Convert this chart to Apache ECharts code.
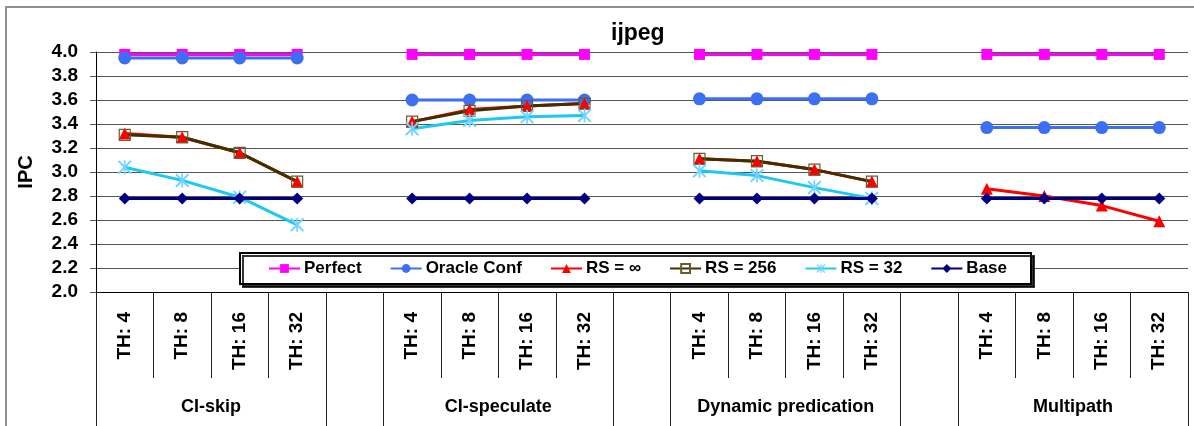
<!DOCTYPE html>
<html>
<head>
  <meta charset="utf-8"/>
  <script src="https://cdn.jsdelivr.net/npm/echarts@6/dist/echarts.min.js"></script>
  <style>
    html, body { margin: 0; padding: 0; background: #fff; }
    #chartmain { width: 1194px; height: 426px; }
  </style>
</head>
<body>
  <div id="chartmain"></div>
  <script type="text/javascript">
    // categories: 4 groups of 4 thresholds, with an empty slot between groups
    var thLabels = ['TH: 4', 'TH: 8', 'TH: 16', 'TH: 32', '',
                    'TH: 4', 'TH: 8', 'TH: 16', 'TH: 32', '',
                    'TH: 4', 'TH: 8', 'TH: 16', 'TH: 32', '',
                    'TH: 4', 'TH: 8', 'TH: 16', 'TH: 32'];
    var groupNames = ['CI-skip', 'CI-speculate', 'Dynamic predication', 'Multipath'];
    var groupCenters = [2, 7, 12, 17];
    var groupEdges = [0, 4, 5, 9, 10, 14, 15, 19];
    var slotEdges = [0, 1, 2, 3, 4, 5, 6, 7, 8, 9, 10, 11, 12, 13, 14, 15, 16, 17, 18, 19];

    var perfect = [3.98, 3.98, 3.98, 3.98, '-', 3.98, 3.98, 3.98, 3.98, '-', 3.98, 3.98, 3.98, 3.98, '-', 3.98, 3.98, 3.98, 3.98];
    var oracleConf = [3.95, 3.95, 3.95, 3.95, '-', 3.60, 3.60, 3.60, 3.60, '-', 3.61, 3.61, 3.61, 3.61, '-', 3.37, 3.37, 3.37, 3.37];
    var rsInf = [3.32, 3.29, 3.16, 2.92, '-', 3.42, 3.52, 3.55, 3.57, '-', 3.11, 3.09, 3.02, 2.92, '-', 2.86, 2.80, 2.72, 2.59];
    var rs256 = [3.31, 3.29, 3.16, 2.92, '-', 3.42, 3.51, 3.55, 3.57, '-', 3.11, 3.09, 3.02, 2.92, '-', '-', '-', '-', '-'];
    var rs32 = [3.04, 2.93, 2.79, 2.56, '-', 3.36, 3.43, 3.46, 3.47, '-', 3.01, 2.97, 2.87, 2.78, '-', '-', '-', '-', '-'];
    var base = [2.78, 2.78, 2.78, 2.78, '-', 2.78, 2.78, 2.78, 2.78, '-', 2.78, 2.78, 2.78, 2.78, '-', 2.78, 2.78, 2.78, 2.78];

    var FONT = '"Liberation Sans", Arial, sans-serif';
    // asterisk marker (vertical bar + X)
    var asterisk = 'path://M4.4 0L5.6 0L5.6 10L4.4 10Z M0 1L1 0L10 9L9 10Z M9 0L10 1L1 10L0 9Z';

    function mkLine(name, data, color, symbol, size, itemStyle) {
      return {
        name: name,
        type: 'line',
        data: data,
        connectNulls: false,
        symbol: symbol,
        symbolSize: size,
        lineStyle: { color: color, width: 3 },
        itemStyle: itemStyle || { color: color },
        emphasis: { disabled: true }
      };
    }

    var option = {
      animation: false,
      backgroundColor: '#fff',
      title: {
        text: 'ijpeg',
        left: 606,
        top: 17,
        textStyle: { fontFamily: FONT, fontSize: 23, fontWeight: 'bold', color: '#000' }
      },
      graphic: [{
        type: 'rect',
        shape: { x: 6, y: 7, width: 1300, height: 600 },
        style: { fill: 'none', stroke: '#909090', lineWidth: 2 },
        silent: true
      }],
      legend: {
        left: 240,
        top: 253,
        padding: [7, 24, 7, 28],
        itemGap: 28,
        itemWidth: 31,
        itemHeight: 11,
        backgroundColor: '#fff',
        borderColor: '#000',
        borderWidth: 2,
        shadowColor: 'rgba(0,0,0,0.8)',
        shadowOffsetX: 3,
        shadowOffsetY: 3,
        shadowBlur: 0,
        textStyle: { fontFamily: FONT, fontSize: 17, fontWeight: 'bold', color: '#000', padding: [0, 0, 0, -1] },
        data: ['Perfect', 'Oracle Conf', 'RS = ∞', 'RS = 256', 'RS = 32', 'Base']
      },
      grid: { left: 96, right: 6, top: 52, bottom: 134, containLabel: false },
      xAxis: [{
        type: 'category',
        data: thLabels,
        boundaryGap: true,
        axisLine: { lineStyle: { color: '#000', width: 1 } },
        axisTick: { show: false },
        axisLabel: {
          interval: 0,
          rotate: 90,
          margin: 20,
          fontFamily: FONT, fontSize: 19, fontWeight: 'bold', color: '#000'
        },
        splitLine: { show: false }
      }, {
        // slot separators in the threshold row
        type: 'value',
        min: 0,
        max: 19,
        position: 'bottom',
        offset: 0,
        axisLine: { show: false },
        axisTick: { show: true, customValues: slotEdges, length: 86, lineStyle: { color: '#222' } },
        axisLabel: { show: false },
        splitLine: { show: false }
      }, {
        // group row
        type: 'value',
        min: 0,
        max: 19,
        position: 'bottom',
        offset: 86,
        axisLine: { show: false },
        axisTick: { show: true, customValues: groupEdges, length: 50, lineStyle: { color: '#222' } },
        axisLabel: {
          customValues: groupCenters,
          margin: 20,
          formatter: function (v) {
            var i = groupCenters.indexOf(v);
            return i >= 0 ? groupNames[i] : '';
          },
          fontFamily: FONT, fontSize: 18, fontWeight: 'bold', color: '#000'
        },
        splitLine: { show: false }
      }],
      yAxis: {
        type: 'value',
        min: 2.0,
        max: 4.0,
        interval: 0.2,
        name: 'IPC',
        nameLocation: 'middle',
        nameGap: 60,
        nameRotate: 90,
        nameTextStyle: { fontFamily: FONT, fontSize: 20, fontWeight: 'bold', color: '#000' },
        axisLine: { show: true, lineStyle: { color: '#000' } },
        axisTick: { show: true, length: 6, lineStyle: { color: '#555' } },
        axisLabel: {
          margin: 18,
          formatter: function (v) { return v.toFixed(1); },
          fontFamily: FONT, fontSize: 19, fontWeight: 'bold', color: '#000'
        },
        splitLine: { show: true, lineStyle: { color: '#555', width: 1 } }
      },
      series: [
        mkLine('Perfect', perfect, '#ff00ff', 'rect', 11),
        mkLine('Oracle Conf', oracleConf, '#3d6ff2', 'circle', 13),
        mkLine('RS = ∞', rsInf, '#ff0000', 'triangle', 12),
        mkLine('RS = 256', rs256, '#403000', 'rect', 11,
               { color: 'rgba(255,255,255,0)', borderColor: '#6b5a2a', borderWidth: 1.2 }),
        mkLine('RS = 32', rs32, '#1ec8f5', asterisk, 14, { color: '#6fd4ff' }),
        mkLine('Base', base, '#000080', 'diamond', 12)
      ]
    };

    var myChart = echarts.init(document.getElementById('chartmain'));
    myChart.setOption(option);
  </script>
</body>
</html>
